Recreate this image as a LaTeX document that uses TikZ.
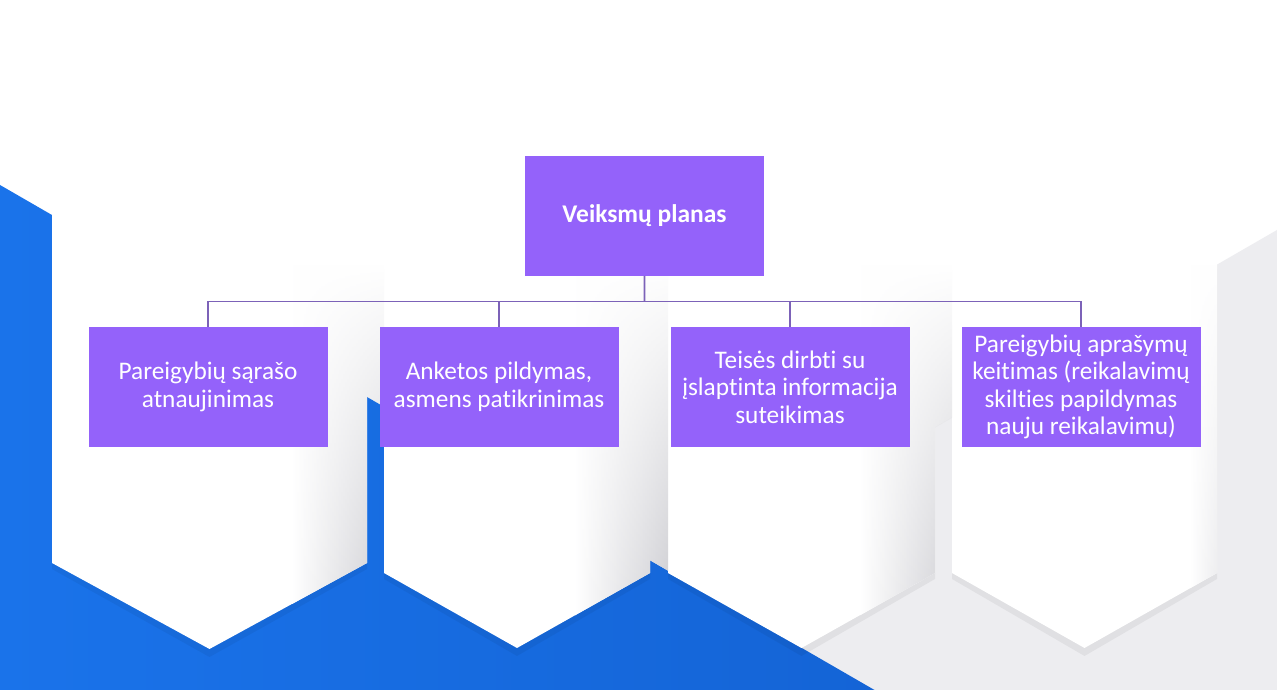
\documentclass[tikz,border=0pt]{standalone}
\usepackage{fontspec}
\setmainfont{Carlito}[Ligatures=NoCommon]
\usepackage{xcolor}
\usepackage{tikz}
\usetikzlibrary{positioning, calc, fadings}
\definecolor{planpurple}{RGB}{148,98,250}
\definecolor{linkpurple}{RGB}{124,98,184}
\definecolor{bgblue}{RGB}{26,115,234}
\definecolor{bgbluedark}{RGB}{20,100,214}
\definecolor{bggray}{RGB}{237,237,240}
\definecolor{shadegray}{RGB}{205,205,210}
\tikzset{
    planbox/.style={rectangle, fill=planpurple, text=white, align=center, minimum width=4.78cm, minimum height=2.4cm, inner sep=0pt, outer sep=0pt, font=\fontsize{14.5}{15.7}\selectfont\bfseries},
    stepbox/.style={planbox, font=\fontsize{14.4}{15.7}\selectfont},
    link/.style={draw=linkpurple, line width=1pt},
    panel/.style={fill=white},
    panelshadow/.style={fill=black, opacity=0.05},
    panelshade/.style={left color=white, right color=shadegray, path fading=north},
}

\begin{document}
\begin{tikzpicture}
    \useasboundingbox (0,0) rectangle (25.54,13.8);
    \fill[white] (0,0) rectangle (25.54,13.8);

    % Backdrop
    \fill[bggray] (25.54,9.2) -- (25.54,0) -- (9.6,0) -- cycle;
    \shade[left color=bgblue, right color=bgbluedark] (0,10.1) -- (17.49,0) -- (0,0) -- cycle;

    % Soft shadows under the panels
    \fill[panelshadow] (1.04,2.54) -- (1.04,2.42) -- (4.19,0.66) -- (7.34,2.42) -- (7.34,2.54) -- cycle;
    \fill[panelshadow] (7.68,2.34) -- (7.68,2.22) -- (10.34,0.68) -- (13.0,2.22) -- (13.0,2.34) -- cycle;
    \fill[panelshadow] (13.36,2.34) -- (13.36,2.22) -- (16.03,0.68) -- (18.70,2.22) -- (18.70,2.34) -- cycle;
    \fill[panelshadow] (19.04,2.34) -- (19.04,2.22) -- (21.69,0.68) -- (24.34,2.22) -- (24.34,2.34) -- cycle;

    % Chevron panels
    \fill[panel] (1.04,10.8) -- (7.34,10.8) -- (7.34,2.54) -- (4.19,0.82) -- (1.04,2.54) -- cycle;
    \fill[panel] (7.68,10.8) -- (13.0,10.8) -- (13.0,2.34) -- (10.34,0.84) -- (7.68,2.34) -- cycle;
    \fill[panel] (13.36,10.8) -- (18.70,10.8) -- (18.70,2.34) -- (16.03,0.84) -- (13.36,2.34) -- cycle;
    \fill[panel] (19.04,10.8) -- (24.34,10.8) -- (24.34,2.34) -- (21.69,0.84) -- (19.04,2.34) -- cycle;

    % Side shading
    \shade[panelshade] (5.84,8.5) -- (7.68,8.5) -- (7.68,5.666) -- (7.34,5.862) -- (7.34,2.54) -- (5.84,1.72) -- cycle;
    \shade[panelshade] (11.5,8.5) -- (13.36,8.5) -- (13.36,2.386) -- (13.0,2.594) -- (13.0,2.34) -- (11.5,1.494) -- cycle;
    \shade[panelshade] (17.2,8.5) -- (19.04,8.5) -- (19.04,5.447) -- (18.70,5.251) -- (18.70,2.34) -- (17.2,1.494) -- cycle;
    \shade[panelshade, right color=shadegray!35] (23.8,8.5) -- (24.34,8.5) -- (24.34,2.34) -- (23.8,2.035) -- cycle;

    % Central node
    \node[planbox] (plan) at (12.89,9.48) {Veiksmų planas};

    % Four steps below it
    \node[stepbox, below left=1.02cm and 0.52cm of plan.south] (s2) {Anketos pildymas,\\asmens patikrinimas};
    \node[stepbox, left=1.04cm of s2] (s1) {Pareigybių sąrašo\\atnaujinimas};
    \node[stepbox, below right=1.02cm and 0.52cm of plan.south] (s3) {Teisės dirbti su\\įslaptinta informacija\\suteikimas};
    \node[stepbox, right=1.04cm of s3] (s4) {Pareigybių aprašymų\\keitimas (reikalavimų\\skilties papildymas\\nauju reikalavimu)};

    % Connectors
    \coordinate (bus) at ($(plan.south)!0.5!(plan.south |- s1.north)$);
    \draw[link] (plan.south) -- (bus);
    \draw[link] (bus) -| (s1.north);
    \draw[link] (bus) -| (s2.north);
    \draw[link] (bus) -| (s3.north);
    \draw[link] (bus) -| (s4.north);
\end{tikzpicture}
\end{document}
